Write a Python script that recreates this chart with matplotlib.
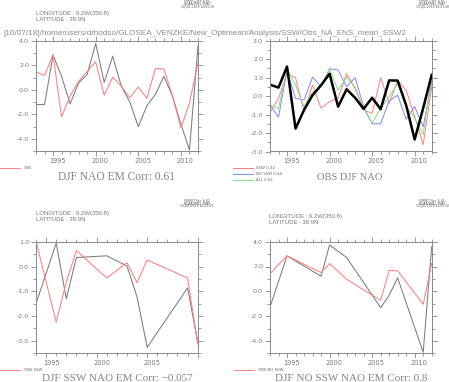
import matplotlib
matplotlib.use('Agg')
import matplotlib.pyplot as plt
from matplotlib import transforms
from matplotlib.lines import Line2D
import numpy as np

plt.rcParams['axes.unicode_minus'] = False

# ---------------- data ----------------
years_all = list(range(1993, 2013))
em_all = [-1.19, -1.2, 2.82, 1.1, -1.14, 0.57, 1.25, 3.77, 0.62, 2.74,
          0.3, -0.98, -3.0, -1.3, -0.38, 1.1, -0.5, -2.8, -4.9, 3.55]
obs_all = [1.46, 1.17, 2.87, -2.2, -0.5, 0.7, 1.5, 2.28, -0.43, 1.03,
           0.3, -0.65, 0.24, -0.7, 1.73, 1.7, -0.46, -3.1, -1.05, 2.2]

obs_djf = [0.62, 0.46, 1.6, -1.76, -0.75, 0.05, 0.59, 1.21, -0.57, 0.37,
           -0.09, -0.69, -0.09, -0.71, 0.85, 0.84, -0.5, -2.35, -0.65, 1.15]
ssw_em = [-0.89, -0.12, 1.2, 1.0, -0.84, 0.6, -0.66, -0.3, -0.12, 1.21,
          0.4, -0.75, -0.93, 1.0, -0.4, 0.85, 0.32, -1.1, -2.62, 0.5]
nossw_em = [-0.48, -1.14, 1.39, -0.12, -0.21, 1.03, 0.53, 1.48, 1.42, 0.5,
            1.0, -0.57, -1.5, -1.5, -0.25, 0.05, -1.25, -0.57, -1.67, 0.76]
all_em = [-0.48, -0.66, 1.48, 0.59, -0.57, 0.23, 0.5, 1.48, 0.32, 1.03,
          0.5, -0.66, -1.46, -0.66, -0.04, 0.68, -0.57, -1.19, -2.08, 1.12]

years_ssw = [1994, 1996, 1997, 1998, 2001, 2003, 2004, 2005, 2009, 2010]
ssw_em_sub = [-1.5, 0.95, -1.3, 0.37, 0.44, 0.03, -1.23, -3.27, -0.86, -3.05]
ssw_obs_sub = [1.04, -2.25, -0.62, 0.65, -0.46, 0.16, -0.65, 0.27, -0.46, -3.14]

years_nossw = [1993, 1995, 1999, 2000, 2002, 2006, 2007, 2008, 2011, 2012]
nossw_em_sub = [-1.27, 2.86, 1.22, 3.73, 2.73, -1.32, -0.32, 1.08, -4.92, 3.6]
nossw_obs_sub = [1.43, 2.86, 1.51, 2.24, 0.97, -0.73, 1.7, 1.65, -1.05, 2.24]

path_title = "[10/07/18]/home/users/drhodso/GLOSEA_VENZKE/New_Optimean/Analysis/SSW/Obs_NA_ENS_mean_SSW2"
titles = ["DJF NAO EM Corr: 0.61", "OBS DJF NAO",
          "DJF SSW NAO EM Corr: \u22120.057", "DJF NO SSW NAO EM Corr: 0.8"]
legend_p1 = ["OBS"]
legend_p2 = ["SSW 0.32", "NO SSW 0.44", "ALL 0.62"]
legend_p3 = ["OBS SSW"]
legend_p4 = ["OBS NO SSW"]
loc_lines = ["LONGITUDE : 9.2W(350.8)", "LATITUDE : 38.9N"]
ferret_lines = ["FERRET Ver. 6.82", "NOAA/PMEL TMAP"]
ferret_times = ["10-JUL-2018 14:01:28", "10-JUL-2018 14:01:28",
                "10-JUL-2018 14:01:29", "10-JUL-2018 14:01:30"]

# ---------------- style ----------------
W, H = 449, 382
AXC = '#8a8a8a'
TXT = '#7a7a7a'
GRAYL = '#7c7c7c'
RED = '#ff7f7f'
BLUE = '#8484ff'
GREEN = '#7fe07f'
NARROW = ['Liberation Sans Narrow', 'Liberation Sans', 'DejaVu Sans']

fig = plt.figure(figsize=(W / 100, H / 100), dpi=100)


def rect(x0, y0, x1, y1):
    return [x0 / W, 1 - y1 / H, (x1 - x0) / W, (y1 - y0) / H]


def ftext(x, y, s, **kw):
    return fig.text(x / W, 1 - y / H, s, **kw)


def setup_axes(ax, xlim, ylim, ymajor, yminor, label_years):
    ax.set_xlim(*xlim)
    ax.set_ylim(*ylim)
    for sp in ax.spines.values():
        sp.set_color(AXC)
        sp.set_linewidth(0.7)
    ax.set_yticks(ymajor)
    ax.set_yticklabels(['%.1f' % v for v in ymajor])
    ax.set_yticks(yminor, minor=True)
    yrs = list(range(int(xlim[0]), int(xlim[1]) + 1))
    ax.set_xticks([y for y in yrs if y % 5 == 0])
    ax.set_xticklabels([])
    ax.set_xticks([y for y in yrs if y % 5 != 0], minor=True)
    ax.tick_params(which='both', direction='out', colors=AXC, labelcolor=TXT,
                   labelsize=4.6, width=0.6, top=True, right=True, pad=1.5)
    ax.tick_params(which='major', length=3.5)
    ax.tick_params(which='minor', length=2.2)
    tr = transforms.blended_transform_factory(ax.transData, ax.transAxes)
    hpx = ax.get_position().height * H
    for y in label_years:
        ax.text(y + 0.5, -10.0 / hpx, str(y), transform=tr, ha='center',
                va='center', fontsize=4.8, color=TXT)


# Panel 1
ax1 = fig.add_axes(rect(36, 40.7, 198, 151.3))
ax1.plot(years_all, em_all, color=GRAYL, lw=0.75)
ax1.plot(years_all, obs_all, color=RED, lw=0.75)
setup_axes(ax1, (1993, 2012), (-5, 4), [-4, -2, 0, 2, 4], [-5, -3, -1, 1, 3],
           [1995, 2000, 2005, 2010])

# Panel 2
ax2 = fig.add_axes(rect(270, 40.7, 431.7, 151.5))
ax2.plot(years_all, ssw_em, color=RED, lw=0.7)
ax2.plot(years_all, nossw_em, color=BLUE, lw=0.7)
ax2.plot(years_all, all_em, color=GREEN, lw=0.7)
ax2.plot(years_all, obs_djf, color='black', lw=1.8)
setup_axes(ax2, (1993, 2012), (-3, 3), [-3, -2, -1, 0, 1, 2, 3],
           list(np.arange(-2.5, 3, 1.0)), [1995, 2000, 2005, 2010])

# Panel 3
ax3 = fig.add_axes(rect(36, 242, 197.7, 353))
ax3.plot(years_ssw, ssw_em_sub, color=GRAYL, lw=0.75)
ax3.plot(years_ssw, ssw_obs_sub, color=RED, lw=0.75)
setup_axes(ax3, (1994, 2010), (-3.5, 1.0), [-3, -2, -1, 0, 1],
           [-3.5, -2.5, -1.5, -0.5, 0.5], [1995, 2000, 2005])

# Panel 4
ax4 = fig.add_axes(rect(270, 241.7, 431.7, 353.3))
ax4.plot(years_nossw, nossw_em_sub, color=GRAYL, lw=0.75)
ax4.plot(years_nossw, nossw_obs_sub, color=RED, lw=0.75)
setup_axes(ax4, (1993, 2012), (-5, 4), [-4, -2, 0, 2, 4], [-5, -3, -1, 1, 3],
           [1995, 2000, 2005, 2010])

# ---------------- texts ----------------
fits = []
for (x, y) in [(36, 13), (36, 213), (269, 216)]:
    t1 = ftext(x, y, loc_lines[0], fontsize=5.2, color=TXT, va='center', family=NARROW)
    t2 = ftext(x, y + 6.7, loc_lines[1], fontsize=5.2, color=TXT, va='center', family=NARROW)
    fits.append((t1, 74.0))
    fits.append((t2, 50.0))

for i, (x, y) in enumerate([(197, 1.5), (432, 1.5), (197, 201), (432, 201)]):
    ftext(x, y, ferret_lines[0], fontsize=2.2, color='#555555', ha='center', va='center')
    ftext(x, y + 2.6, ferret_lines[1], fontsize=2.2, color='#555555', ha='center', va='center')
    ftext(x, y + 5.2, ferret_times[i], fontsize=2.2, color='#555555', ha='center', va='center')

pt = ftext(3, 33.5, path_title, fontsize=7, color='#8c8c8c', va='center', ha='left',
           family=NARROW)
fits.append((pt, 405.0))

title_specs = [(116.5, 177, 117), (350, 177, 66), (117, 378.5, 151), (351, 378.5, 151.7)]
for s, (x, y, w) in zip(titles, title_specs):
    fits.append((ftext(x, y, s, fontsize=9, color='#858585', ha='center', va='center',
                       family=['Liberation Serif', 'DejaVu Serif']), w))

# legends
def leg(x0, x1, y, color, label):
    fig.add_artist(Line2D([x0 / W, x1 / W], [1 - y / H, 1 - y / H], color=color, lw=0.7))
    ftext(x1 + 3.5, y, label, fontsize=2.8, color='#666666', va='center')

leg(0, 20, 168.3, RED, legend_p1[0])
for lab, col, y in zip(legend_p2, [RED, BLUE, GREEN], [168, 174, 180]):
    leg(233, 253, y, col, lab)
leg(0, 20, 370, RED, legend_p3[0])
leg(234, 254, 370, RED, legend_p4[0])

# fit text widths
fig.canvas.draw()
r = fig.canvas.get_renderer()
for t, w in fits:
    bb = t.get_window_extent(r)
    t.set_fontsize(t.get_fontsize() * w / bb.width)

fig.savefig('out.png', dpi=100)
